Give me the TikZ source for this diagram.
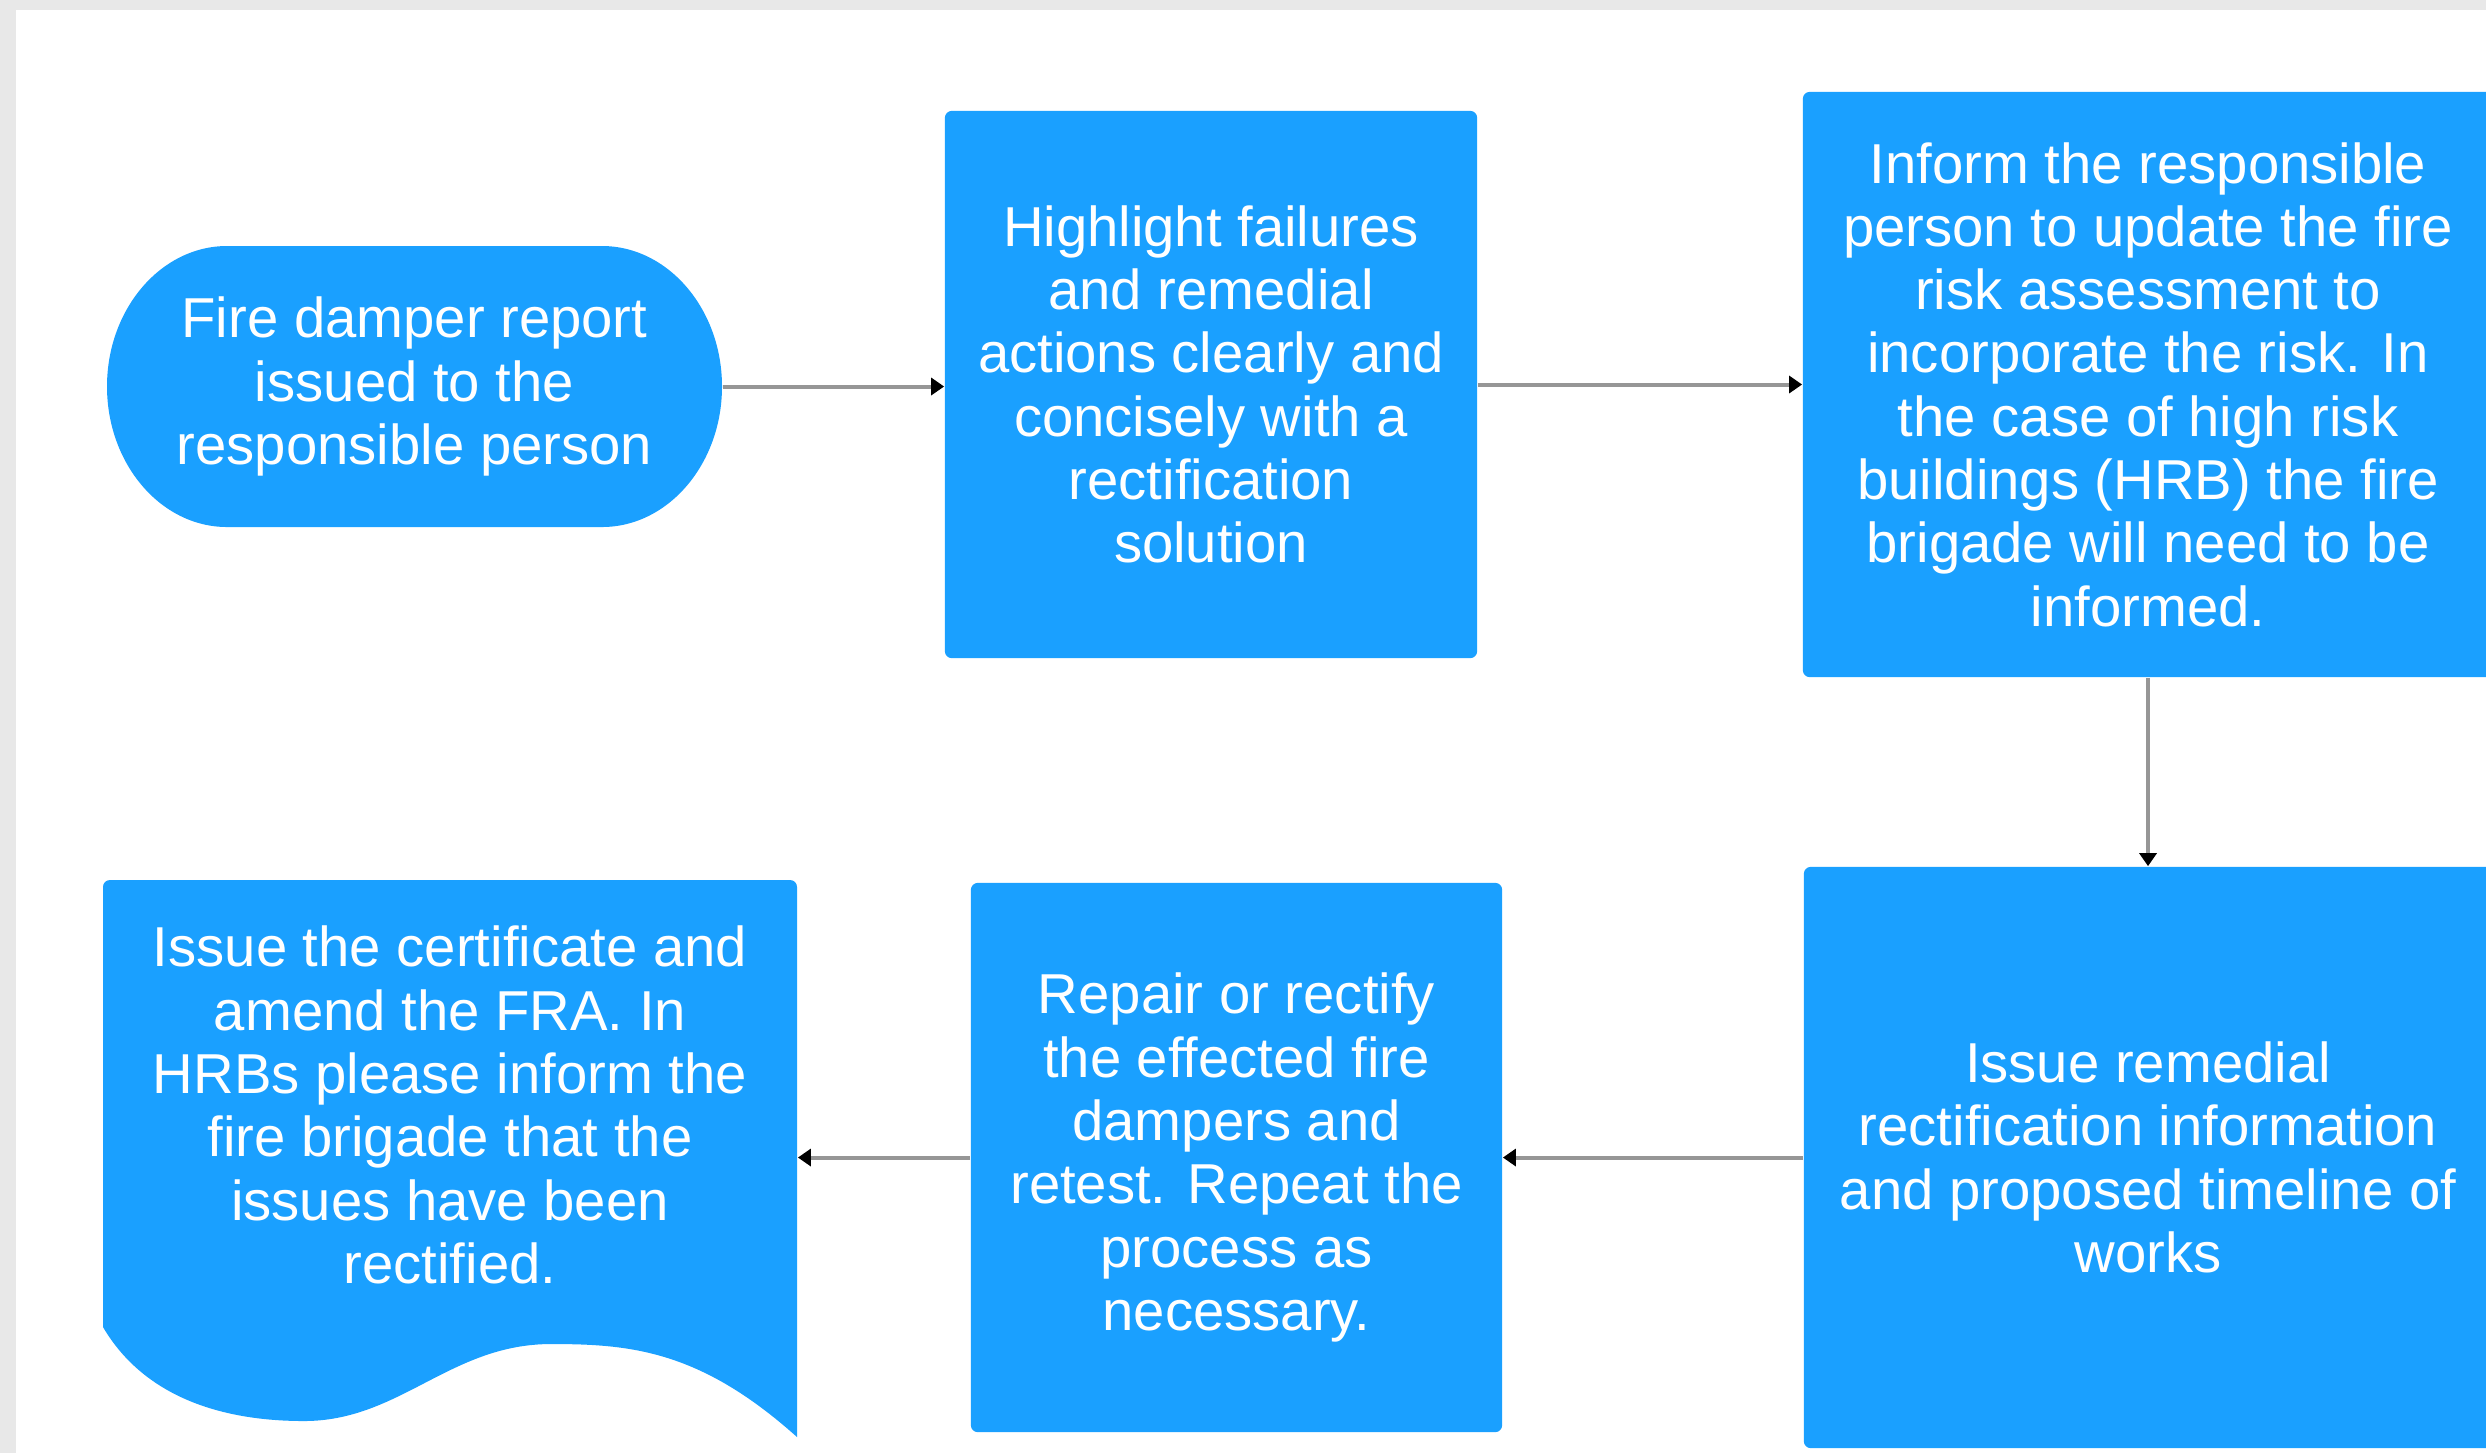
\documentclass[tikz,border=0pt]{standalone}
\usepackage{fontspec}
\setmainfont{Liberation Sans}
\usetikzlibrary{arrows.meta}
\definecolor{boxblue}{RGB}{26,160,255}
\definecolor{framegray}{RGB}{232,232,232}
\definecolor{linegray}{RGB}{150,150,150}
\begin{document}
\begin{tikzpicture}[x=0.01cm,y=-0.01cm,
  txt/.style={text=white,align=center,font=\fontsize{16pt}{18pt}\selectfont,inner sep=0pt},
  blk/.style={txt,fill=boxblue,rounded corners=0.07cm},
  shapefill/.style={fill=boxblue},
  arr/.style={draw=linegray,line width=0.04cm,-{Triangle[length=0.13cm,width=0.17cm,color=black]}}]
\useasboundingbox (0,0) rectangle (2486,1453);
\clip (0,0) rectangle (2486,1453);
% page
\fill[framegray] (0,0) rectangle (2486,1453);
\fill[white] (16,10) rectangle (2486,1453);
% terminator shape
\fill[shapefill] (227,246) -- (602,246) .. controls (668,246) and (722,309) .. (722,386.5)
  .. controls (722,464) and (668,527) .. (602,527) -- (227,527)
  .. controls (161,527) and (107,464) .. (107,386.5)
  .. controls (107,309) and (161,246) .. (227,246) -- cycle;
% document shape
\fill[shapefill] (110,880) -- (790,880) .. controls (794,880) and (797,883) .. (797,887) -- (797,1437)
  .. controls (700,1350) and (630,1344) .. (551,1344)
  .. controls (450,1344) and (400,1421) .. (304,1421)
  .. controls (210,1421) and (140,1390) .. (103,1327)
  -- (103,887) .. controls (103,883) and (106,880) .. (110,880) -- cycle;
% nodes
\node[txt, minimum width=6.15cm] (start) at (414.5,386.5) {Fire damper report\\issued to the\\responsible person};
\node[blk, minimum width=5.32cm, minimum height=5.47cm] (b2) at (1211,384.5)
  {Highlight failures\\and remedial\\actions clearly and\\concisely with a\\rectification\\solution};
\node[blk, minimum width=6.90cm, minimum height=5.85cm] (b3) at (2148,384.5)
  {Inform the responsible\\person to update the fire\\risk assessment to\\incorporate the risk. In\\the case of high risk\\buildings (HRB) the fire\\brigade will need to be\\informed.};
\node[blk, minimum width=6.88cm, minimum height=5.81cm] (b4) at (2148,1157.5)
  {Issue remedial\\rectification information\\and proposed timeline of\\works};
\node[blk, minimum width=5.31cm, minimum height=5.49cm] (b5) at (1236.5,1157.5)
  {Repair or rectify\\the effected fire\\dampers and\\retest. Repeat the\\process as\\necessary.};
\node[txt, minimum width=6.94cm] (doc) at (450,1105)
  {Issue the certificate and\\amend the FRA. In\\HRBs please inform the\\fire brigade that the\\issues have been\\rectified.};
% connectors
\draw[arr] (start.east) -- (start.east -| b2.west);
\draw[arr] (b2.east) -- (b2.east -| b3.west);
\draw[arr] (b3.south) -- (b4.north);
\draw[arr] (b4.west) -- (b5.east);
\draw[arr] (b5.west) -- (b5.west -| doc.east);
\end{tikzpicture}
\end{document}
